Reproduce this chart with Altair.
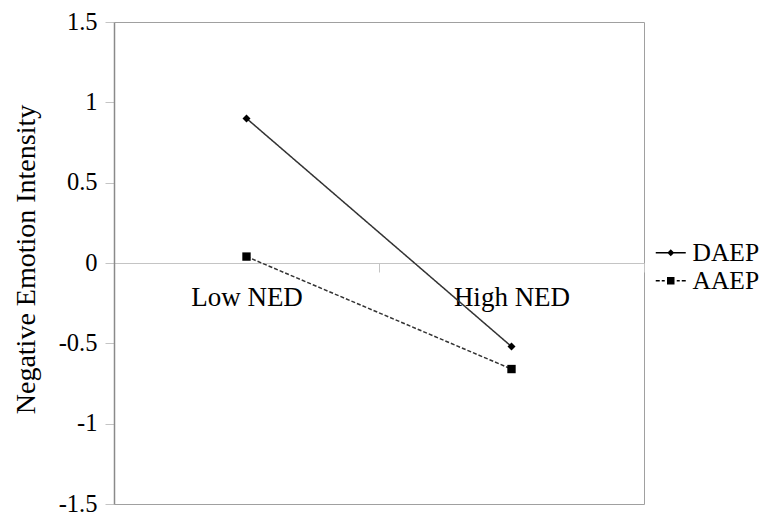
import altair as alt
import pandas as pd

categories = ["Low NED", "High NED"]
series = ["DAEP", "AAEP"]
daep = [0.9, -0.52]
aaep = [0.04, -0.66]
y_ticks = [-1.5, -1.0, -0.5, 0.0, 0.5, 1.0, 1.5]

rows = []
for s, vals in zip(series, [daep, aaep]):
    for c, v in zip(categories, vals):
        rows.append({"cond": c, "series": s, "value": v})
df = pd.DataFrame(rows)

FONT = "Liberation Serif"
W, H = 530, 482

x_enc = alt.X(
    "cond:N",
    sort=categories,
    bandPosition=0.5,
    scale=alt.Scale(type="band", domain=categories, paddingInner=0, paddingOuter=0),
    axis=alt.Axis(
        title=None, orient="bottom", offset=-H / 2, labelAngle=0,
        domainColor="#c4c4c4", domainWidth=1.2, tickColor="#c4c4c4", tickSize=9,
        tickBand="extent", labelFont=FONT, labelFontSize=27, labelColor="black",
        labelBaseline="alphabetic", labelPadding=33, grid=False,
    ),
)
y_enc = alt.Y(
    "value:Q",
    scale=alt.Scale(domain=[-1.5, 1.5], nice=False, zero=False),
    axis=alt.Axis(
        values=y_ticks, labelExpr="'' + datum.value", grid=False,
        labelFont=FONT, labelFontSize=24.5, labelColor="black", labelPadding=8,
        tickColor="#c4c4c4", tickSize=9, domainColor="#8a8a8a", domainWidth=1.5,
        title="Negative Emotion Intensity", titleFont=FONT, titleFontSize=28,
        titleFontWeight="normal", titleColor="black", titleX=-88, titleY=237,
        titleAngle=270, titleBaseline="middle", titleAlign="center",
    ),
)

base = alt.Chart(df).encode(x=x_enc, y=y_enc)

lines = base.mark_line(color="#333333", strokeWidth=1.5).encode(
    strokeDash=alt.StrokeDash("series:N", scale=alt.Scale(domain=series, range=[[1, 0], [4, 2]]), legend=None),
    detail="series:N",
)

points = base.mark_point(filled=True, color="black", opacity=1).encode(
    shape=alt.Shape("series:N", scale=alt.Scale(domain=series, range=["diamond", "square"]), legend=None),
    size=alt.Size("series:N", scale=alt.Scale(domain=series, range=[64, 70]), legend=None),
)

# legend glyphs: line segment(s) drawn as thin filled rectangles + marker
t = 0.13
def seg(a, b):
    return f"M{a},{-t}L{b},{-t}L{b},{t}L{a},{t}Z"

path_d = seg(-3, 3) + "M-0.7,0L0,-0.7L0.7,0L0,0.7Z"
path_a = (seg(-3, -2.2) + seg(-1.8, -1.2) + seg(1.2, 1.8) + seg(2.2, 3)
          + "M-0.75,-0.75L0.75,-0.75L0.75,0.75L-0.75,0.75Z")

legend_layer = base.mark_point(filled=True, color="black", strokeWidth=0).encode(
    shape=alt.Shape(
        "series:N",
        scale=alt.Scale(domain=series, range=[path_d, path_a]),
        legend=alt.Legend(
            orient="none", legendX=544, legendY=218, title=None, symbolSize=100,
            labelOffset=9, labelFont=FONT, labelFontSize=25.5, labelColor="black",
            rowPadding=1, padding=0, symbolStrokeWidth=0,
            symbolFillColor="black", symbolOpacity=1,
        ),
    )
).transform_filter("false")

chart = (
    alt.layer(lines, points, legend_layer)
    .resolve_scale(shape="independent")
    .properties(
        width=W, height=H,
        autosize=alt.AutoSizeParams(type="none"),
        padding={"left": 106, "top": 14, "right": 116, "bottom": 16},
        background="white",
    )
    .configure_view(stroke="#a0a0a0", strokeWidth=1)
)

chart.save("out.html", embed_options={"renderer": "svg", "actions": False})
